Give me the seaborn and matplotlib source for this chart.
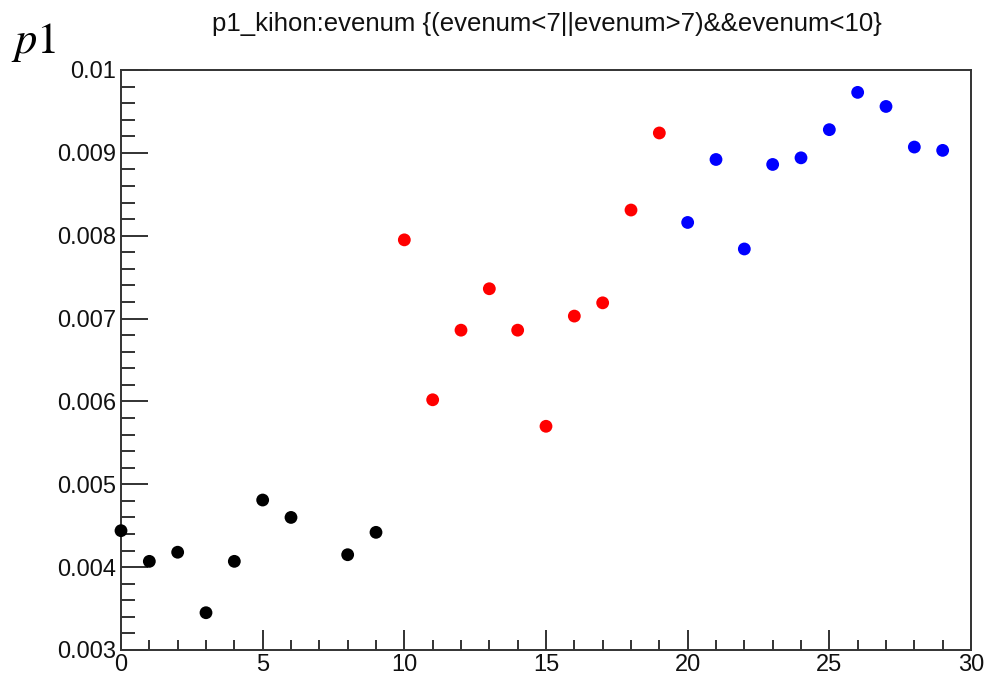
import numpy as np
import pandas as pd
import matplotlib
matplotlib.use("Agg")
import matplotlib.pyplot as plt
import seaborn as sns
from matplotlib.ticker import MultipleLocator, FuncFormatter

# ---- data ----
evenum = [0, 1, 2, 3, 4, 5, 6, 8, 9,
          10, 11, 12, 13, 14, 15, 16, 17, 18, 19,
          20, 21, 22, 23, 24, 25, 26, 27, 28, 29]
p1_kihon = [0.00444, 0.00407, 0.00418, 0.00345, 0.00407, 0.00481, 0.00460, 0.00415, 0.00442,
            0.00795, 0.00602, 0.00686, 0.00736, 0.00686, 0.00570, 0.00703, 0.00719, 0.00831, 0.00924,
            0.00816, 0.00892, 0.00784, 0.00886, 0.00894, 0.00928, 0.00973, 0.00956, 0.00907, 0.00903]
group = ["g0"] * 9 + ["g1"] * 10 + ["g2"] * 10
palette = {"g0": "#000000", "g1": "#ff0000", "g2": "#0000ff"}

title = "p1_kihon:evenum {(evenum<7||evenum>7)&&evenum<10}"
ylabel_corner = r"$p1$"

df = pd.DataFrame({"evenum": evenum, "p1": p1_kihon, "group": group})

sns.set_theme(style="white")
plt.rcParams['font.family'] = ['Liberation Sans', 'DejaVu Sans']

fig = plt.figure(figsize=(9.86, 6.76), dpi=100)
ax = fig.add_axes([121 / 986, 26 / 676, 850 / 986, 580 / 676])

sns.scatterplot(data=df, x="evenum", y="p1", hue="group", palette=palette,
                s=85, edgecolor="none", linewidth=0, legend=False, ax=ax, zorder=3,
                clip_on=False)

ax.set_xlim(0, 30)
ax.set_ylim(0.003, 0.01)
ax.set_xlabel("")
ax.set_ylabel("")

ax.xaxis.set_major_locator(MultipleLocator(5))
ax.xaxis.set_minor_locator(MultipleLocator(1))
ax.yaxis.set_major_locator(MultipleLocator(0.001))
ax.yaxis.set_minor_locator(MultipleLocator(0.0002))
ax.yaxis.set_major_formatter(FuncFormatter(lambda v, p: "%g" % round(v, 6)))
ax.xaxis.set_major_formatter(FuncFormatter(lambda v, p: "%g" % v))

ax.tick_params(axis="both", which="both", direction="in", color="#222222",
               width=1.3, bottom=True, left=True, top=False, right=False,
               labelcolor="#111111")
ax.tick_params(axis="y", which="major", length=19.5, pad=3.5, labelsize=17)
ax.tick_params(axis="y", which="minor", length=10)
ax.tick_params(axis="x", which="major", length=14.5, pad=3, labelsize=17)
ax.tick_params(axis="x", which="minor", length=7.5)

for sp in ax.spines.values():
    sp.set_color("#333333")
    sp.set_linewidth(1.4)
    sp.set_visible(True)

fig.text(547 / 986, 1 - 24 / 676, title, ha="center", va="center", fontsize=18.5,
         color="#111111")
fig.text(11 / 986, 1 - 42 / 676, ylabel_corner, ha="left", va="center", fontsize=32,
         math_fontfamily="stix", color="#000000")

fig.savefig("out.png", dpi=100)
